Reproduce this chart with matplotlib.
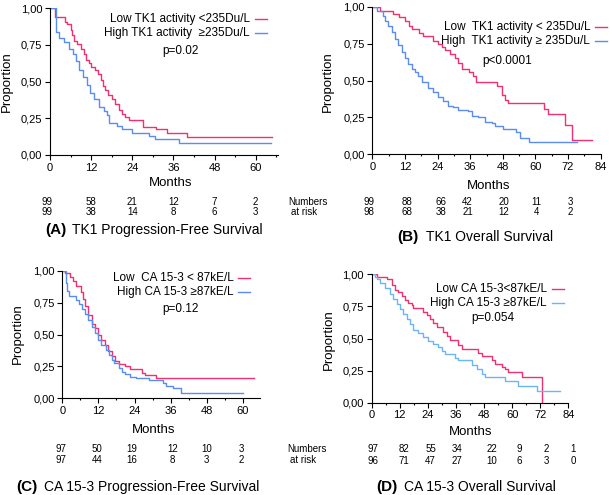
import matplotlib
matplotlib.use("Agg")
import matplotlib.pyplot as plt
from matplotlib.lines import Line2D
from matplotlib.ticker import MultipleLocator, FixedLocator
import matplotlib.transforms as mtransforms

plt.rcParams['font.family'] = ['Liberation Sans', 'DejaVu Sans']

W, H = 610, 495
PINK = '#f2306f'
BLUE = '#5b8df0'
BLUE_D = '#6cb6f5'

# ---------------- data ----------------
# Panel A: TK1 PFS
a_low_t = [0, 1.5, 4.3, 5, 6, 6.5, 7, 8, 9, 10, 10.5, 11.5, 12, 13, 14, 15, 15.5, 16, 17, 18,
           19, 20, 21, 22, 23, 27, 31, 34, 40, 64.7]
a_low_s = [1.0, 0.94, 0.91, 0.89, 0.85, 0.82, 0.78, 0.76, 0.72, 0.69, 0.65, 0.63, 0.60, 0.58, 0.55,
           0.51, 0.47, 0.44, 0.41, 0.38, 0.35, 0.31, 0.28, 0.26, 0.24, 0.19, 0.18, 0.15, 0.12, 0.12]
a_high_t = [0, 1.8, 2.7, 4.1, 5.6, 6.6, 7.6, 8.4, 9.6, 10.8, 11.7, 12.7, 14.2, 15.7, 16.6, 17.1,
            19.5, 21, 24, 29, 30.5, 37.7, 64.5]
a_high_s = [1.0, 0.84, 0.80, 0.77, 0.72, 0.69, 0.64, 0.58, 0.53, 0.48, 0.42, 0.38, 0.33, 0.30, 0.27,
            0.22, 0.20, 0.18, 0.15, 0.13, 0.11, 0.08, 0.08]

# Panel B: TK1 OS
b_low_t = [0, 2.8, 7.7, 10, 12, 13.5, 14.5, 17, 18.8, 22.4, 24.3, 25.5, 26.7, 28.6, 30.4, 31.6,
           32.9, 35.5, 37.2, 38, 45.7, 47.6, 48.8, 50, 63, 64.7, 70.9, 73.3, 80.7]
b_low_s = [1.0, 0.97, 0.95, 0.93, 0.90, 0.87, 0.85, 0.82, 0.80, 0.77, 0.75, 0.73, 0.71, 0.68, 0.65,
           0.62, 0.58, 0.56, 0.53, 0.49, 0.46, 0.40, 0.37, 0.35, 0.31, 0.27, 0.20, 0.10, 0.10]
b_high_t = [0, 1.8, 4, 4.7, 5.9, 7.1, 8.3, 9.6, 10.8, 12, 13.2, 14.5, 15.7, 16.9, 18.1, 20.6, 22.4,
            24.3, 26.1, 28, 29.8, 31.6, 35.3, 36.5, 39, 41.4, 43.9, 45, 48.2, 53, 54.3, 57.6, 59.2, 75.2]
b_high_s = [1.0, 0.97, 0.94, 0.90, 0.87, 0.83, 0.78, 0.74, 0.69, 0.65, 0.61, 0.58, 0.56, 0.53, 0.49,
            0.45, 0.42, 0.39, 0.36, 0.33, 0.32, 0.30, 0.29, 0.26, 0.25, 0.22, 0.21, 0.19, 0.17, 0.15,
            0.11, 0.08, 0.08, 0.08]

# Panel C: CA 15-3 PFS
c_low_t = [0, 0.9, 2.5, 3.5, 4.5, 6.2, 7.0, 7.7, 8.4, 10, 11, 12, 13, 14.2, 15.3, 16.4, 17.5, 19,
           21, 22.5, 26.5, 27.5, 31.3, 63.7]
c_low_s = [1.0, 0.98, 0.95, 0.92, 0.88, 0.83, 0.78, 0.72, 0.65, 0.58, 0.55, 0.50, 0.46, 0.42, 0.37,
           0.33, 0.29, 0.27, 0.25, 0.23, 0.20, 0.18, 0.16, 0.16]
c_high_t = [0, 1.1, 1.5, 2.2, 4.4, 5.4, 6.5, 7.6, 8.7, 9.8, 10.9, 12.0, 13.0, 14.5, 15.5, 16.6,
            17.3, 19.0, 20.0, 21.0, 22.5, 24.5, 28.8, 33.3, 34.5, 36.7, 39.4, 59.9]
c_high_s = [1.0, 0.90, 0.84, 0.80, 0.77, 0.74, 0.70, 0.66, 0.61, 0.56, 0.51, 0.46, 0.42, 0.38, 0.34,
            0.30, 0.28, 0.24, 0.21, 0.19, 0.17, 0.16, 0.14, 0.12, 0.10, 0.08, 0.04, 0.04]

# Panel D: CA 15-3 OS
d_low_t = [0, 2.1, 6.4, 8.8, 10, 11.4, 12.8, 14.2, 15.7, 17.1, 17.8, 21.8, 23.5, 24.9, 26.3, 27.8,
           30.6, 32, 33.5, 37, 38.4, 45.6, 47, 51.2, 52.7, 55.5, 56.9, 58.4, 64.1, 72.6, 72.6]
d_low_s = [1.0, 0.98, 0.96, 0.92, 0.88, 0.86, 0.83, 0.80, 0.78, 0.76, 0.74, 0.71, 0.68, 0.65, 0.62,
           0.59, 0.55, 0.52, 0.49, 0.45, 0.42, 0.39, 0.36, 0.33, 0.30, 0.28, 0.26, 0.24, 0.20, 0.0, 0.0]
d_high_t = [0, 1.4, 2.1, 3.6, 5.7, 7.8, 9.3, 10.7, 12.1, 13.5, 14.9, 16.4, 17.8, 19.9, 22.1, 24.2,
            26.3, 28.5, 29.9, 31.3, 35.6, 37, 42.7, 44.8, 47, 48.4, 56.9, 62.6, 70.5, 80.4]
d_high_s = [1.0, 0.98, 0.96, 0.93, 0.89, 0.85, 0.81, 0.77, 0.73, 0.69, 0.65, 0.61, 0.57, 0.54, 0.51,
            0.48, 0.46, 0.43, 0.40, 0.38, 0.35, 0.33, 0.29, 0.26, 0.22, 0.20, 0.17, 0.13, 0.09, 0.09]

# numbers at risk
a_risk_low = ['99', '58', '21', '12', '7', '2']
a_risk_high = ['99', '38', '14', '8', '6', '3']
b_risk_low = ['99', '88', '66', '42', '20', '11', '3']
b_risk_high = ['98', '68', '38', '21', '12', '4', '2']
c_risk_low = ['97', '50', '19', '12', '10', '3']
c_risk_high = ['97', '44', '16', '8', '3', '2']
d_risk_low = ['97', '82', '55', '34', '22', '9', '2', '1']
d_risk_high = ['96', '71', '47', '27', '10', '6', '3', '0']

y_ticks = [0.0, 0.25, 0.5, 0.75, 1.0]
y_ticklabels = ['0,00', '0,25', '0,50', '0,75', '1,00']

# ---------------- layout helpers ----------------
fig = plt.figure(figsize=(W / 100, H / 100), dpi=100)


def fx(x):
    return x / W


def fy(y):
    return 1 - y / H


def make_ax(x0, x1, ytop, ybot, xmax, xticks):
    ax = fig.add_axes([fx(x0), fy(ybot), (x1 - x0) / W, (ybot - ytop) / H])
    ax.set_xlim(0, xmax)
    ax.set_ylim(0, 1)
    for s in ['top', 'right']:
        ax.spines[s].set_visible(False)
    for s in ['left', 'bottom']:
        ax.spines[s].set_linewidth(0.8)
    ax.set_yticks(y_ticks)
    ax.set_yticklabels(y_ticklabels)
    ax.set_xticks(xticks)
    ax.xaxis.set_minor_locator(MultipleLocator(6))
    ax.tick_params(axis='both', which='major', labelsize=8, length=3.5, width=0.8, pad=2)
    ax.tick_params(axis='x', which='minor', length=1.5, width=0.8)
    ax.patch.set_alpha(0)
    return ax


def legend(x_right, y1, y2, label1, label2, c1, c2, pval, px_center, py, line_len=12):
    fig.text(fx(x_right), fy(y1), label1, ha='right', va='center', fontsize=8.5)
    fig.text(fx(x_right), fy(y2), label2, ha='right', va='center', fontsize=8.5)
    for yy, c in ((y1, c1), (y2, c2)):
        fig.add_artist(Line2D([fx(x_right + 5), fx(x_right + 5 + line_len)], [fy(yy), fy(yy)],
                              color=c, lw=1.0, transform=fig.transFigure))
    fig.text(fx(px_center), fy(py), pval, ha='center', va='center', fontsize=8.5)


def labels(ylab_x, ylab_y, mon_x, mon_y):
    fig.text(fx(ylab_x), fy(ylab_y), 'Proportion', rotation=90, ha='center', va='center', fontsize=9.5)
    fig.text(fx(mon_x), fy(mon_y), 'Months', ha='center', va='center', fontsize=9.5)


def risk_rows(ax, months, row1, row2, y1, y2):
    tr = mtransforms.blended_transform_factory(ax.transData, fig.transFigure)
    for m, a, b in zip(months, row1, row2):
        ax.text(m, fy(y1), a, transform=tr, ha='center', va='center', fontsize=7, clip_on=False)
        ax.text(m, fy(y2), b, transform=tr, ha='center', va='center', fontsize=7, clip_on=False)


def title(x_letter, x_rest, y, letter, rest):
    fig.text(fx(x_letter), fy(y), letter, ha='left', va='center', fontsize=11, fontweight='bold')
    fig.text(fx(x_rest), fy(y), rest, ha='left', va='center', fontsize=10)


# ---------------- Panel A ----------------
axA = make_ax(50, 278, 8.3, 155, 66.5, [0, 12, 24, 36, 48, 60])
axA.step(a_low_t, a_low_s, where='post', color=PINK, lw=1.0)
axA.step(a_high_t, a_high_s, where='post', color=BLUE, lw=1.0)
legend(250, 19, 33, 'Low TK1 activity <235Du/L', 'High TK1 activity  \u2265235Du/L', PINK, BLUE,
       'p=0.02', 180, 50.7)
labels(7.3, 81.7, 171, 183.3)
risk_rows(axA, [-0.8, 12, 24, 36, 48, 60], a_risk_low, a_risk_high, 201.7, 212.3)
fig.text(fx(288), fy(201.7), 'Numbers', ha='left', va='center', fontsize=7)
fig.text(fx(291), fy(212.3), 'at risk', ha='left', va='center', fontsize=7)
title(45, 71.7, 230, '(A)', 'TK1 Progression-Free Survival')

# ---------------- Panel B ----------------
axB = make_ax(372.3, 600.7, 6.7, 154.3, 84, [0, 12, 24, 36, 48, 60, 72, 84])
axB.step(b_low_t, b_low_s, where='post', color=PINK, lw=1.0)
axB.step(b_high_t, b_high_s, where='post', color=BLUE, lw=1.0)
legend(590, 26.7, 40.7, 'Low  TK1 activity < 235Du/L', 'High  TK1 activity \u2265 235Du/L', PINK, BLUE,
       'p<0.0001', 506.7, 60.7)
labels(328.3, 81.7, 488.3, 185.7)
risk_rows(axB, [-1.1, 12.7, 25.3, 35, 48.5, 60.5, 72.8], b_risk_low, b_risk_high, 201.7, 212.3)
title(397.7, 425.7, 237, '(B)', 'TK1 Overall Survival')

# ---------------- Panel C ----------------
axC = make_ax(62.3, 260, 270.7, 398.3, 65.7, [0, 12, 24, 36, 48, 60])
axC.step(c_low_t, c_low_s, where='post', color=PINK, lw=1.0)
axC.step(c_high_t, c_high_s, where='post', color=BLUE, lw=1.0)
legend(233.3, 278.3, 292.3, 'Low  CA 15-3 < 87kE/L', 'High CA 15-3 \u226587kE/L', PINK, BLUE,
       'p=0.12', 180, 309.3)
labels(18.3, 333.3, 153.3, 430)
risk_rows(axC, [-0.5, 11.6, 23.1, 36.6, 48, 59.6], c_risk_low, c_risk_high, 449, 460)
fig.text(fx(287.3), fy(449), 'Numbers', ha='left', va='center', fontsize=7)
fig.text(fx(289.5), fy(460), 'at risk', ha='left', va='center', fontsize=7)
title(16.7, 44.3, 486.7, '(C)', 'CA 15-3 Progression-Free Survival')

# ---------------- Panel D ----------------
axD = make_ax(371.7, 568.3, 274.3, 402.7, 84, [0, 12, 24, 36, 48, 60, 72, 84])
axD.step(d_low_t, d_low_s, where='post', color=PINK, lw=1.0)
axD.step(d_high_t, d_high_s, where='post', color=BLUE_D, lw=1.0)
legend(546.7, 289, 302.7, 'Low CA 15-3<87kE/L', 'High CA 15-3 \u226587kE/L', PINK, BLUE_D,
       'p=0.054', 493.3, 318.3)
labels(329, 339.3, 471, 431.7)
risk_rows(axD, [0.7, 13.8, 25.2, 36.5, 51.2, 63.2, 74.6, 86], d_risk_low, d_risk_high, 449.3, 460.7)
title(376.7, 404, 487.3, '(D)', 'CA 15-3 Overall Survival')

fig.savefig('out.png', dpi=100)
